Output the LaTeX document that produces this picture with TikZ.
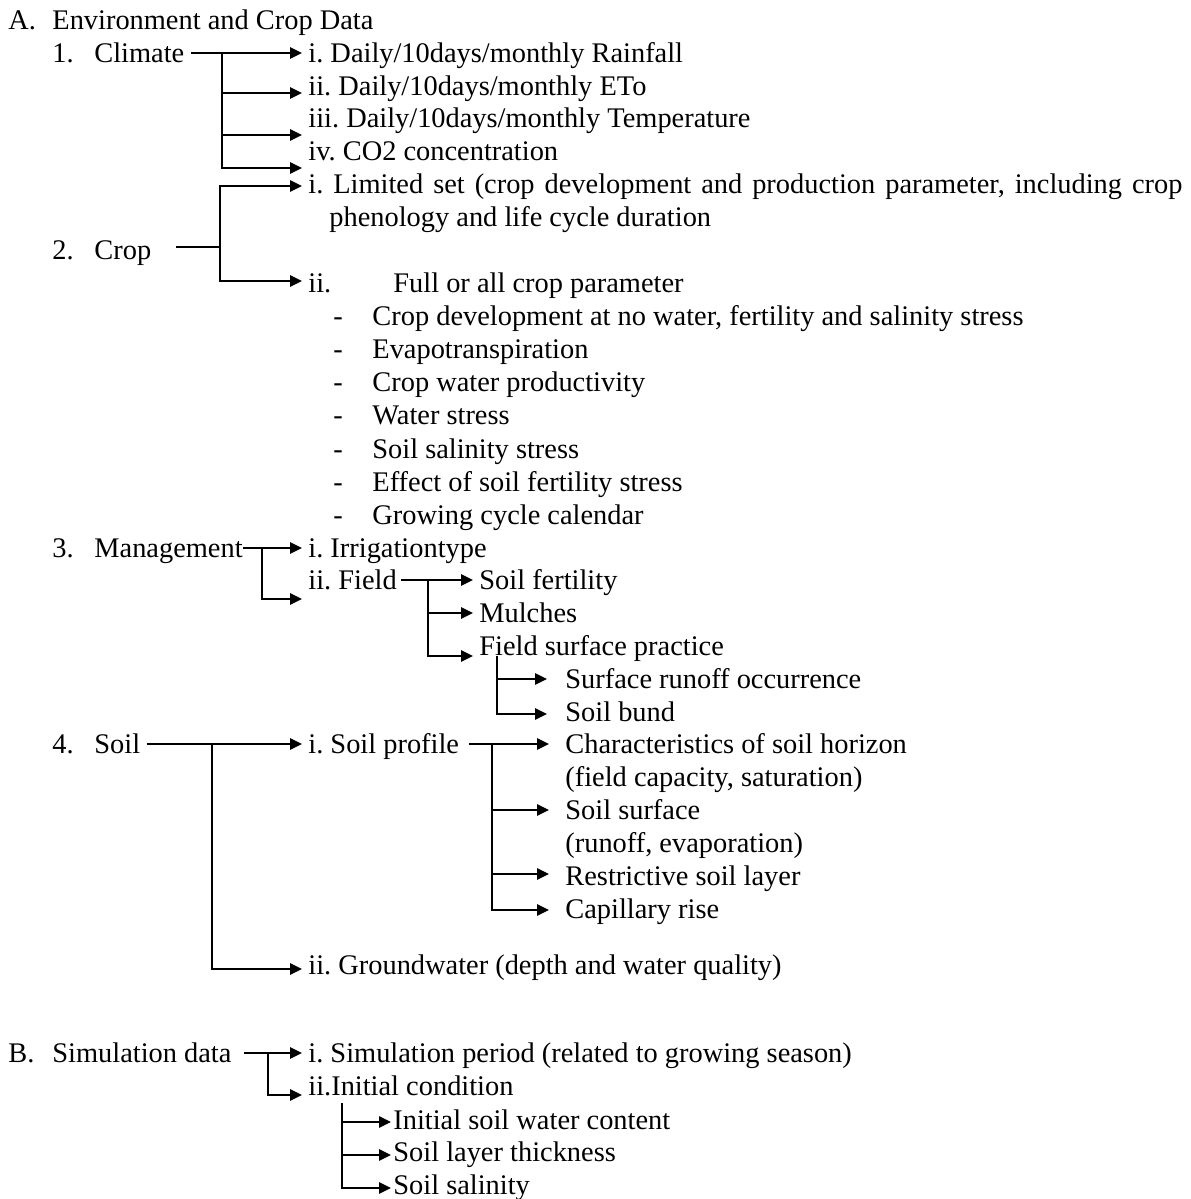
\documentclass[tikz,border=0pt]{standalone}
\usepackage{fontspec}
\setmainfont{Liberation Serif}
\usetikzlibrary{arrows.meta,calc}
\tikzset{
  txt/.style={inner sep=0pt,text height=10pt,text depth=1pt,anchor=base west},
  link/.style={line width=1.3pt},
  arr/.style={link,-{Triangle[length=6pt,width=5.5pt]},shorten >=3pt},
}
\frenchspacing

\begin{document}
\begin{tikzpicture}[x=0.5pt,y=-0.5pt,font=\fontsize{14.2}{17}\selectfont]
  \useasboundingbox (0,0) rectangle (1190,1199);

  % Environment and crop data.
  \node[txt] (hA) at (8,29) {A.};
  \node[txt] (envcrop) at (52,29) {Environment and Crop Data};

  % Climate.
  \node[txt] (n1) at (52,62) {1.};
  \node[txt] (climate) at (94,62) {Climate};
  \node[txt] (rain) at (308,62) {i. Daily/10days/monthly Rainfall};
  \node[txt] (eto) at (308,95) {ii. Daily/10days/monthly ETo};
  \node[txt] (temp) at (308,127) {iii. Daily/10days/monthly Temperature};
  \node[txt] (co2) at (308,160) {iv. CO2 concentration};
  \coordinate (climfork) at (222,53);
  \draw[arr,shorten <=3pt] (climate.east) -- (rain.west);
  \draw[arr] (climfork) |- ($(eto.west)+(0,7)$);
  \draw[arr] (climfork) |- ($(temp.west)+(0,17)$);
  \draw[arr] (climfork) |- ($(co2.west)+(0,17)$);

  % Crop.
  \node[txt] (n2) at (52,259) {2.};
  \node[txt] (crop) at (94,259) {Crop};
  \node[txt] (limited) at (308,193)
        {\makebox[437pt][s]{i. Limited set (crop development and production parameter, including crop}};
  \node[txt] (limited2) at (329,226) {phenology and life cycle duration};
  \node[txt] (fullnum) at (308,292) {ii.};
  \node[txt] (full) at (393,292) {Full or all crop parameter};
  \coordinate (cropfork) at (220,247);
  \draw[link,shorten <=12pt] (crop.east |- cropfork) -- (cropfork);
  \draw[arr] (cropfork) |- ($(limited.west)+(0,2)$);
  \draw[arr] (cropfork) |- ($(fullnum.west)+(0,-2)$);
  \foreach \item [count=\k] in {{Crop development at no water, fertility and salinity stress},
      Evapotranspiration, Crop water productivity, Water stress, Soil salinity stress,
      Effect of soil fertility stress, Growing cycle calendar} {
    \node[txt] (dash\k) at (333,{325+33.3*(\k-1)}) {-};
    \node[txt] (par\k) at (372,{325+33.3*(\k-1)}) {\item};
  }

  % Management.
  \node[txt] (n3) at (52,557) {3.};
  \node[txt] (manage) at (94,557) {Management};
  \node[txt] (irrig) at (308,557) {i. Irrigationtype};
  \node[txt] (field) at (308,589) {ii. Field};
  \coordinate (manfork) at (262,548);
  \draw[arr] (manage.east) -- (irrig.west);
  \draw[arr] (manfork) |- ($(field.west)+(0,19)$);
  \node[txt] (fert) at (479,589) {Soil fertility};
  \node[txt] (mulch) at (479,622) {Mulches};
  \node[txt] (fsp) at (479,655) {Field surface practice};
  \coordinate (fieldfork) at (428,580);
  \draw[arr,shorten <=2pt] (field.east) -- (fert.west);
  \draw[arr] (fieldfork) |- (mulch.west);
  \draw[arr] (fieldfork) |- ($(fsp.west)+(0,10)$);
  \node[txt] (runoff) at (565,688) {Surface runoff occurrence};
  \node[txt] (bund) at (565,721) {Soil bund};
  \coordinate (fspfork) at (497,656);
  \draw[arr,shorten >=9pt] (fspfork) |- (runoff.west);
  \draw[arr,shorten >=9pt] (fspfork) |- ($(bund.west)+(0,2)$);

  % Soil.
  \node[txt] (n4) at (52,753) {4.};
  \node[txt] (soil) at (94,753) {Soil};
  \node[txt] (profile) at (308,753) {i. Soil profile};
  \node[txt] (ground) at (308,974) {ii. Groundwater (depth and water quality)};
  \coordinate (soilfork) at (212,744);
  \draw[arr,shorten <=3pt] (soil.east) -- (profile.west);
  \draw[arr] (soilfork) |- ($(ground.west)+(0,4)$);
  \node[txt] (horizon) at (565,753) {Characteristics of soil horizon};
  \node[txt] (horizon2) at (565,786) {(field capacity, saturation)};
  \node[txt] (surface) at (565,819) {Soil surface};
  \node[txt] (surface2) at (565,852) {(runoff, evaporation)};
  \node[txt] (restrict) at (565,885) {Restrictive soil layer};
  \node[txt] (capil) at (565,918) {Capillary rise};
  \coordinate (profork) at (492,744);
  \draw[arr,shorten <=5pt,shorten >=8pt] (profile.east) -- (horizon.west);
  \draw[arr,shorten >=8pt] (profork) |- (surface.west);
  \draw[arr,shorten >=8pt] (profork) |- ($(restrict.west)+(0,-2)$);
  \draw[arr,shorten >=8pt] (profork) |- ($(capil.west)+(0,1)$);

  % Simulation data.
  \node[txt] (hB) at (8,1062) {B.};
  \node[txt] (simdata) at (52,1062) {Simulation data};
  \node[txt] (period) at (308,1062) {i. Simulation period (related to growing season)};
  \node[txt] (initial) at (308,1095) {ii.Initial condition};
  \coordinate (simfork) at (268,1053);
  \draw[arr,shorten <=6pt] (simdata.east) -- (period.west);
  \draw[arr] (simfork) |- ($(initial.west)+(0,9)$);
  \node[txt] (water) at (393,1129) {Initial soil water content};
  \node[txt] (thick) at (393,1161) {Soil layer thickness};
  \node[txt] (salin) at (393,1194) {Soil salinity};
  \coordinate (initfork) at (342,1103);
  \draw[arr,shorten >=1pt] (initfork) |- ($(water.west)+(0,2)$);
  \draw[arr,shorten >=1pt] (initfork) |- ($(thick.west)+(0,3)$);
  \draw[arr,shorten >=1pt] (initfork) |- ($(salin.west)+(0,3)$);
\end{tikzpicture}
\end{document}
